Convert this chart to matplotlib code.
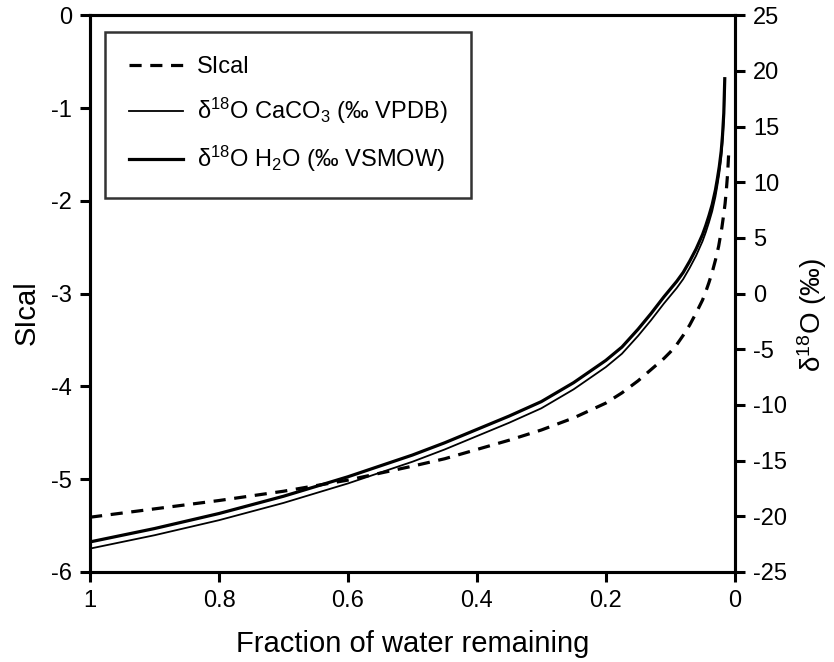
import matplotlib
matplotlib.use('Agg')
import matplotlib.pyplot as plt

plt.rcParams['font.family'] = ['Liberation Sans', 'DejaVu Sans']
plt.rcParams['mathtext.fontset'] = 'custom'
plt.rcParams['mathtext.rm'] = 'Liberation Sans'
plt.rcParams['mathtext.default'] = 'regular'
plt.rcParams['axes.unicode_minus'] = False

# fraction of water remaining and the curves read along it
frac_si = [1.0, 0.9, 0.8, 0.7, 0.6, 0.5, 0.45, 0.4, 0.35, 0.3, 0.25, 0.2,
           0.175, 0.15, 0.13, 0.11, 0.1, 0.09, 0.08, 0.07, 0.06, 0.05, 0.045,
           0.04, 0.035, 0.03, 0.025, 0.02, 0.017, 0.015, 0.013, 0.011, 0.0095]
si_cal = [-5.41, -5.32, -5.23, -5.13, -5.01, -4.86, -4.78, -4.68, -4.58, -4.47,
          -4.34, -4.18, -4.07, -3.94, -3.82, -3.70, -3.63, -3.55, -3.45, -3.34,
          -3.21, -3.07, -2.98, -2.88, -2.77, -2.64, -2.49, -2.29, -2.14, -2.03,
          -1.88, -1.70, -1.50]

frac_d = [1.0, 0.9, 0.8, 0.7, 0.6, 0.5, 0.45, 0.4, 0.35, 0.3, 0.25, 0.2,
          0.175, 0.15, 0.13, 0.11, 0.1, 0.09, 0.08, 0.07, 0.06, 0.05, 0.045,
          0.04, 0.035, 0.03, 0.027, 0.024, 0.021, 0.019, 0.017, 0.0155]
d18o_h2o = [-22.3, -21.1, -19.75, -18.2, -16.45, -14.5, -13.4, -12.2, -11.0,
            -9.7, -8.0, -6.0, -4.8, -3.2, -1.8, -0.3, 0.4, 1.1, 1.9, 2.9, 4.0,
            5.3, 6.1, 7.0, 8.0, 9.3, 10.3, 11.4, 12.8, 14.2, 16.2, 19.3]
d18o_caco3 = [-22.9, -21.7, -20.35, -18.8, -17.05, -15.1, -14.0, -12.8, -11.6,
              -10.3, -8.6, -6.6, -5.4, -3.8, -2.4, -0.9, -0.2, 0.5, 1.3, 2.3,
              3.4, 4.7, 5.5, 6.4, 7.4, 8.7, 9.7, 10.8, 12.2, 13.6, 15.6, 18.8]

fig = plt.figure(figsize=(8.34, 6.62), dpi=100)
ax = fig.add_axes([0.108, 0.136, 0.773, 0.841])
ax2 = ax.twinx()

l1, = ax.plot(frac_si, si_cal, color='black', lw=2.3, ls=(0, (3.8, 2.7)),
              label='SIcal')
l2, = ax2.plot(frac_d, d18o_caco3, color='black', lw=1.3,
               label='$δ^{18}$O CaCO$_3$ (‰ VPDB)')
l3, = ax2.plot(frac_d, d18o_h2o, color='black', lw=2.3,
               label='$δ^{18}$O H$_2$O (‰ VSMOW)')

ax.set_xlim(1, 0)
ax.set_ylim(-6, 0)
ax2.set_ylim(-25, 25)
ax.set_xticks([1, 0.8, 0.6, 0.4, 0.2, 0])
ax.set_xticklabels(['1', '0.8', '0.6', '0.4', '0.2', '0'])
ax.set_yticks(range(-6, 1))
ax2.set_yticks(range(-25, 26, 5))

for a in (ax, ax2):
    for s in a.spines.values():
        s.set_linewidth(2.2)
    a.tick_params(direction='out', length=7, width=2.2, labelsize=17, pad=6)

ax.set_xlabel('Fraction of water remaining', fontsize=21, labelpad=13)
ax.set_ylabel('SIcal', fontsize=21)
ax.yaxis.set_label_coords(-0.076, 0.465)
ax2.set_ylabel('$δ^{18}$O (‰)', fontsize=20)
ax2.yaxis.set_label_coords(1.094, 0.461)

leg = ax.legend(handles=[l1, l2, l3], loc='upper left', fontsize=17,
                handlelength=2.3, handletextpad=0.6, labelspacing=0.75,
                borderpad=1.0, borderaxespad=0, fancybox=False,
                edgecolor='black', bbox_to_anchor=(0.023, 0.969))
leg.get_frame().set_linewidth(1.8)

plt.savefig('out.png', dpi=100)
